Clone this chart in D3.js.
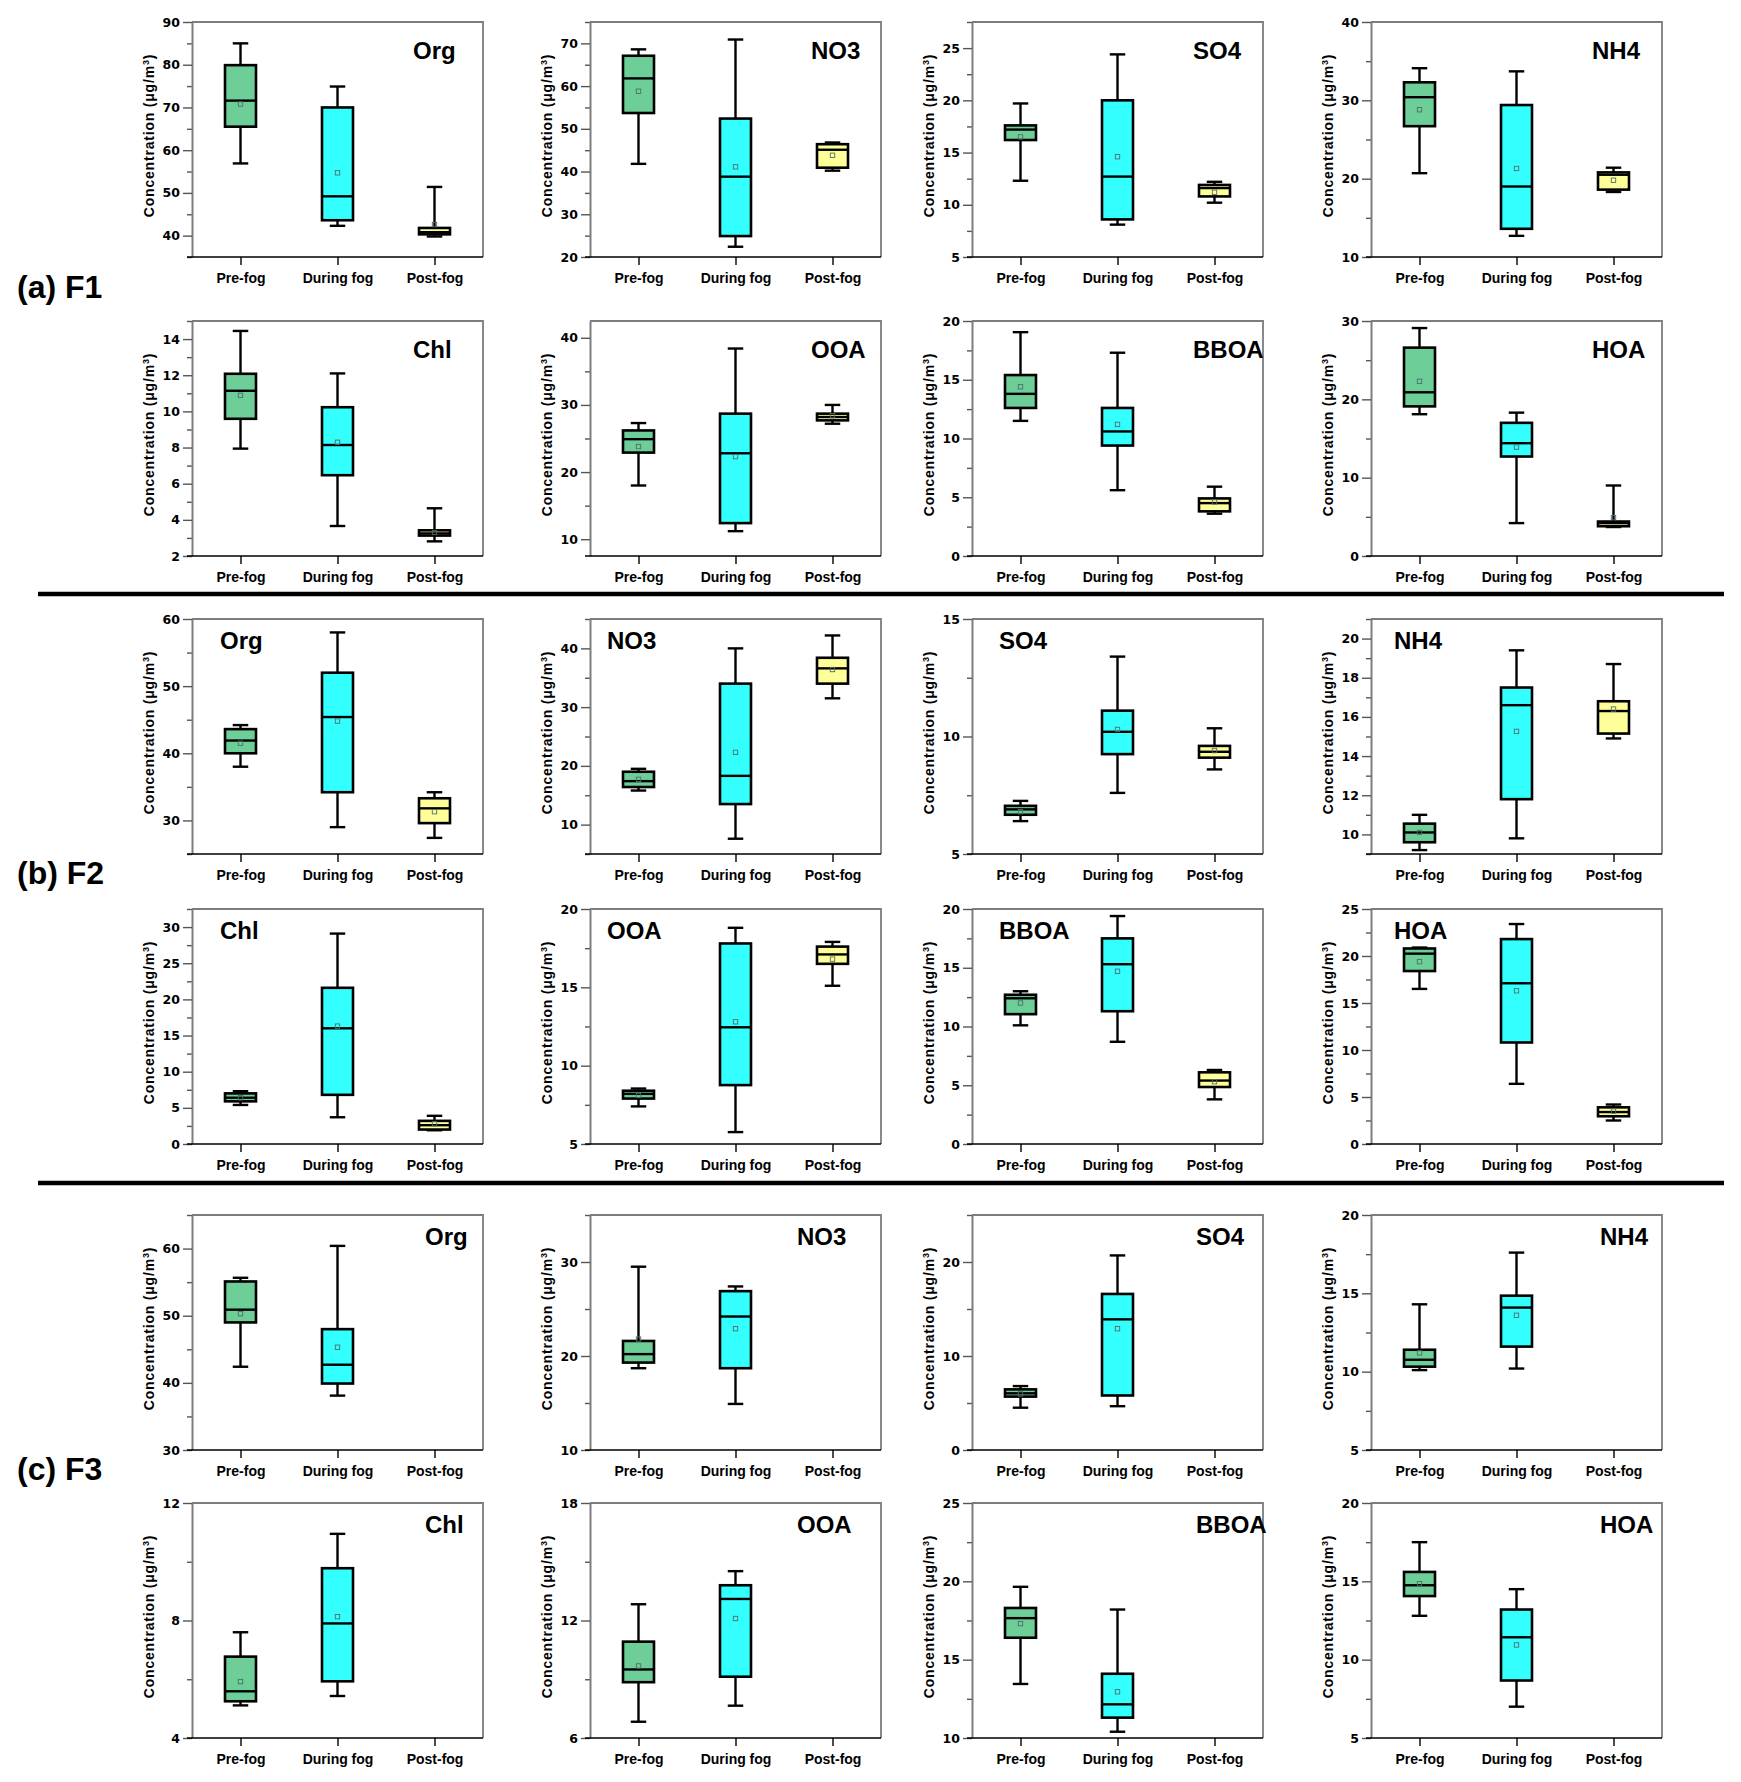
<!DOCTYPE html>
<html><head><meta charset="utf-8">
<script src="https://cdn.jsdelivr.net/npm/d3@7"></script>
<style>
body{margin:0;background:#fff}
svg{display:block}
text{font-family:"Liberation Sans",Arial,Helvetica,sans-serif;font-weight:bold;fill:#000}
</style>
</head><body>
<svg id="chart" width="1741" height="1782"></svg>
<script>
// ---------- DATA ----------
const categories = ["Pre-fog", "During fog", "Post-fog"];
const species = ["Org", "NO3", "SO4", "NH4", "Chl", "OOA", "BBOA", "HOA"];
const sectionLabels = ["(a) F1", "(b) F2", "(c) F3"];
const boxColors = ["#6DCE98", "#33FFFF", "#FFFF99"];

// each box: [lower whisker, Q1, median, Q3, upper whisker, mean]
const F1_Org  = [[56.9, 65.5, 71.6, 79.9, 85.0, 70.8], [42.3, 43.6, 49.2, 70.0, 74.9, 54.7], [39.8, 40.3, 40.8, 41.8, 51.4, 42.6]];
const F1_NO3  = [[41.8, 53.7, 61.8, 67.1, 68.6, 58.8], [22.4, 24.9, 38.8, 52.4, 70.9, 41.1], [40.2, 40.9, 45.1, 46.4, 46.8, 43.8]];
const F1_SO4  = [[12.3, 16.2, 17.2, 17.6, 19.7, 16.5], [8.1, 8.6, 12.7, 20.0, 24.4, 14.6], [10.2, 10.8, 11.6, 11.9, 12.2, 11.2]];
const F1_NH4  = [[20.7, 26.7, 30.4, 32.3, 34.1, 28.8], [12.7, 13.6, 19.0, 29.4, 33.7, 21.3], [18.3, 18.6, 20.5, 20.8, 21.4, 19.8]];
const F1_Chl  = [[7.94, 9.59, 11.14, 12.08, 14.45, 10.89], [3.66, 6.47, 8.14, 10.23, 12.1, 8.29], [2.81, 3.13, 3.25, 3.42, 4.64, 3.3]];
const F1_OOA  = [[18.0, 22.9, 24.9, 26.2, 27.3, 23.8], [11.2, 12.4, 22.8, 28.7, 38.4, 22.3], [27.2, 27.7, 28.2, 28.7, 30.0, 28.4]];
const F1_BBOA = [[11.5, 12.6, 13.8, 15.4, 19.05, 14.4], [5.6, 9.4, 10.6, 12.6, 17.3, 11.2], [3.6, 3.8, 4.5, 4.9, 5.9, 4.6]];
const F1_HOA  = [[18.1, 19.1, 20.9, 26.6, 29.1, 22.3], [4.2, 12.7, 14.4, 17.0, 18.3, 13.9], [3.7, 3.8, 4.2, 4.4, 9.0, 4.9]];

const F2_Org  = [[38.0, 40.0, 41.9, 43.6, 44.2, 41.5], [29.0, 34.2, 45.4, 52.0, 58.0, 44.8], [27.4, 29.6, 31.8, 33.3, 34.2, 31.3]];
const F2_NO3  = [[15.8, 16.4, 17.4, 19.0, 19.5, 17.7], [7.6, 13.5, 18.3, 34.0, 40.0, 22.3], [31.5, 34.0, 36.6, 38.4, 42.2, 36.4]];
const F2_SO4  = [[6.4, 6.67, 6.9, 7.05, 7.26, 6.8], [7.6, 9.25, 10.2, 11.1, 13.4, 10.3], [8.6, 9.1, 9.35, 9.6, 10.35, 9.4]];
const F2_NH4  = [[9.2, 9.6, 10.1, 10.55, 11.0, 10.1], [9.8, 11.8, 16.6, 17.5, 19.4, 15.26], [14.9, 15.15, 16.3, 16.8, 18.7, 16.4]];
const F2_Chl  = [[5.4, 5.9, 6.4, 7.0, 7.3, 6.4], [3.7, 6.8, 16.0, 21.6, 29.1, 16.3], [1.9, 2.0, 2.6, 3.2, 3.9, 2.8]];
const F2_OOA  = [[7.4, 7.9, 8.2, 8.4, 8.54, 8.1], [5.76, 8.76, 12.45, 17.8, 18.8, 12.8], [15.1, 16.5, 17.1, 17.6, 17.9, 16.8]];
const F2_BBOA = [[10.1, 11.05, 12.4, 12.7, 13.0, 12.0], [8.7, 11.3, 15.3, 17.5, 19.4, 14.7], [3.8, 4.85, 5.4, 6.1, 6.3, 5.3]];
const F2_HOA  = [[16.5, 18.4, 20.25, 20.8, 20.9, 19.4], [6.4, 10.8, 17.1, 21.8, 23.4, 16.3], [2.5, 2.95, 3.4, 3.9, 4.2, 3.5]];

const F3_Org  = [[42.4, 49.0, 50.9, 55.1, 55.65, 50.3], [38.1, 39.9, 42.7, 48.0, 60.4, 45.3], null];
const F3_NO3  = [[18.7, 19.3, 20.2, 21.6, 29.5, 21.8], [14.9, 18.7, 24.2, 26.9, 27.4, 22.9], null];
const F3_SO4  = [[4.5, 5.68, 6.03, 6.45, 6.8, 5.97], [4.66, 5.8, 13.9, 16.6, 20.7, 12.9], null];
const F3_NH4  = [[10.1, 10.32, 10.76, 11.4, 14.3, 11.2], [10.2, 11.6, 14.09, 14.85, 17.6, 13.6], null];
const F3_Chl  = [[5.11, 5.25, 5.59, 6.77, 7.6, 5.92], [5.43, 5.93, 7.9, 9.78, 10.95, 8.13], null];
const F3_OOA  = [[6.83, 8.85, 9.5, 10.92, 12.83, 9.68], [7.65, 9.13, 13.1, 13.8, 14.52, 12.1], null];
const F3_BBOA = [[13.45, 16.4, 17.65, 18.3, 19.65, 17.3], [10.4, 11.3, 12.15, 14.1, 18.2, 12.95], null];
const F3_HOA  = [[12.8, 14.06, 14.75, 15.6, 17.5, 14.85], [7.0, 8.67, 11.43, 13.2, 14.5, 10.94], null];

// y-axis ranges and tick steps (order follows `species`)
const F1_yDomain = [[35, 90], [20, 75], [5, 27.5], [10, 40], [2, 15], [7.5, 42.5], [0, 20], [0, 30]];
const F2_yDomain = [[25, 60], [5, 45], [5, 15], [9, 21], [0, 32.5], [5, 20], [0, 20], [0, 25]];
const F3_yDomain = [[30, 65], [10, 35], [0, 25], [5, 20], [4, 12], [6, 18], [10, 25], [5, 20]];
const F1_majorStep = [10, 10, 5, 10, 2, 10, 5, 10];
const F2_majorStep = [10, 10, 5, 2, 5, 5, 5, 5];
const F3_majorStep = [10, 10, 10, 5, 4, 6, 5, 5];
const F1_minorStep = [5, 5, 2.5, 5, 1, 5, 2.5, 5];
const F2_minorStep = [5, 5, 2.5, 1, 2.5, 2.5, 2.5, 2.5];
const F3_minorStep = [5, 5, 5, 2.5, 2, 3, 2.5, 2.5];

const stats = [
  [F1_Org, F1_NO3, F1_SO4, F1_NH4, F1_Chl, F1_OOA, F1_BBOA, F1_HOA],
  [F2_Org, F2_NO3, F2_SO4, F2_NH4, F2_Chl, F2_OOA, F2_BBOA, F2_HOA],
  [F3_Org, F3_NO3, F3_SO4, F3_NH4, F3_Chl, F3_OOA, F3_BBOA, F3_HOA]
];
const yDomains = [F1_yDomain, F2_yDomain, F3_yDomain];
const majorSteps = [F1_majorStep, F2_majorStep, F3_majorStep];
const minorSteps = [F1_minorStep, F2_minorStep, F3_minorStep];

// ---------- LAYOUT ----------
const svg = d3.select("#chart");
const colLeft = [192, 590, 972, 1371];
const W = 291, H = 235;
const rowTops = [[22, 321], [619, 909], [1215, 1503]];
const labelDX = [[221, 221, 221, 221], [28, 17, 27, 23], [233, 207, 224, 229]];
const labelDY = [37, 30, 30];
const sectionLabelY = [298, 884, 1480];
const ruleY = [594, 1183];
const boxW = 31;
const frameGray = "#7d7d7d";

function stepValues(d0, d1, step) {
  const a = Math.ceil(d0 / step - 1e-9), b = Math.floor(d1 / step + 1e-9);
  return d3.range(a, b + 1).map(k => +(k * step).toFixed(6));
}

function drawPanel(sec, i) {
  const col = i % 4, row = Math.floor(i / 4);
  const L = colLeft[col], T = rowTops[sec][row], B = T + H, R = L + W;
  const dom = yDomains[sec][i];
  const y = d3.scaleLinear().domain(dom).range([B, T]);
  const x = d3.scalePoint().domain(categories).range([L, R]).padding(0.5);
  const g = svg.append("g");

  // frame (top/right gray)
  g.append("path").attr("d", `M${L},${T}H${R}V${B}`)
    .attr("fill", "none").attr("stroke", frameGray).attr("stroke-width", 1.8);

  const majors = stepValues(dom[0], dom[1], majorSteps[sec][i]);
  const minors = stepValues(dom[0], dom[1], minorSteps[sec][i])
    .filter(v => !majors.some(m => Math.abs(m - v) < 1e-6));

  const yMinor = g.append("g").attr("transform", `translate(${L},0)`)
    .call(d3.axisLeft(y).tickValues(minors).tickSize(5).tickFormat("").tickSizeOuter(0));
  yMinor.select(".domain").remove();
  const yMajor = g.append("g").attr("transform", `translate(${L},0)`)
    .call(d3.axisLeft(y).tickValues(majors).tickSize(9).tickPadding(3)
      .tickFormat(d3.format("~g")).tickSizeOuter(0));
  [yMinor, yMajor].forEach(a => {
    a.selectAll("line").attr("stroke", "#555").attr("stroke-width", 1.4);
  });
  yMajor.select(".domain").attr("stroke", frameGray).attr("stroke-width", 2);
  yMajor.selectAll("text").style("font-size", "12.5px")
    .style("font-family", '"DejaVu Sans", Verdana, sans-serif');

  const xAx = g.append("g").attr("transform", `translate(0,${B})`)
    .call(d3.axisBottom(x).tickSize(8).tickPadding(8).tickSizeOuter(0));
  xAx.select(".domain").remove();
  xAx.selectAll("line").attr("stroke", "#000").attr("stroke-width", 1.4);
  xAx.selectAll("text").style("font-size", "14px");
  g.append("line").attr("x1", L - 5).attr("x2", R).attr("y1", B).attr("y2", B)
    .attr("stroke", "#000").attr("stroke-width", 1.6);

  // y title
  g.append("text")
    .attr("transform", `translate(${L - 43},${(T + B) / 2 - 4}) rotate(-90)`)
    .attr("text-anchor", "middle").attr("dy", "0.35em")
    .style("font-size", "14px").style("letter-spacing", "0.8px")
    .html('Concentration (μg/m<tspan baseline-shift="super" style="font-size:9px">3</tspan>)');

  // boxes
  stats[sec][i].forEach((s, j) => {
    if (!s) return;
    const [lo, q1, md, q3, hi, mean] = s;
    const cx = x(categories[j]);
    const bg = g.append("g");
    bg.append("line").attr("x1", cx).attr("x2", cx).attr("y1", y(hi)).attr("y2", y(q3))
      .attr("stroke", "#000").attr("stroke-width", 2.4);
    bg.append("line").attr("x1", cx).attr("x2", cx).attr("y1", y(q1)).attr("y2", y(lo))
      .attr("stroke", "#000").attr("stroke-width", 2.4);
    [hi, lo].forEach(v => bg.append("line")
      .attr("x1", cx - boxW / 4).attr("x2", cx + boxW / 4).attr("y1", y(v)).attr("y2", y(v))
      .attr("stroke", "#000").attr("stroke-width", 2.4));
    bg.append("rect").attr("x", cx - boxW / 2).attr("y", y(q3))
      .attr("width", boxW).attr("height", Math.max(0.5, y(q1) - y(q3)))
      .attr("fill", boxColors[j]).attr("stroke", "#000").attr("stroke-width", 2.6);
    bg.append("line").attr("x1", cx - boxW / 2).attr("x2", cx + boxW / 2)
      .attr("y1", y(md)).attr("y2", y(md)).attr("stroke", "#000").attr("stroke-width", 2.4);
    bg.append("rect").attr("x", cx - 2.2).attr("y", y(mean) - 2.2).attr("width", 4.4).attr("height", 4.4)
      .attr("fill", "none").attr("stroke", "#4f6f6a").attr("stroke-width", 0.9);
  });

  // species label
  g.append("text").attr("x", L + labelDX[sec][col]).attr("y", T + labelDY[sec])
    .style("font-size", "24px").text(species[i]);
}

for (let sec = 0; sec < 3; sec++) {
  for (let i = 0; i < 8; i++) drawPanel(sec, i);
  svg.append("text").attr("x", 17).attr("y", sectionLabelY[sec])
    .style("font-size", "32px").text(sectionLabels[sec]);
}
ruleY.forEach(yy => svg.append("line").attr("x1", 38).attr("x2", 1724)
  .attr("y1", yy).attr("y2", yy).attr("stroke", "#000").attr("stroke-width", 4.5));
</script>
</body></html>
